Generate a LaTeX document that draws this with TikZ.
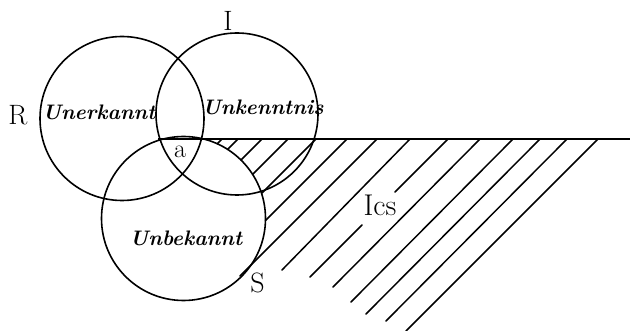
\documentclass[tikz,border=0pt]{standalone}
\usepackage{fontspec}
\begin{document}
\begin{tikzpicture}[x=1pt,y=-1pt,
  ring/.style={draw=black,line width=1.6pt},
  hatch/.style={draw=black,line width=1.5pt,line cap=round},
  caplabel/.style={inner sep=0pt,font=\fontsize{28}{30}\selectfont},
  itlabel/.style={inner sep=0pt,font=\fontsize{21}{23}\selectfont\bfseries\itshape}]
\useasboundingbox[fill=white] (0,0) rectangle (630,331);
% circle centres
\coordinate (cR) at (122,118.5);
\coordinate (cI) at (237,114);
\coordinate (cS) at (183.5,218.5);
\draw[ring] (cR) circle[radius=82];
\draw[ring] (cI) circle[radius=81];
\draw[ring] (cS) circle[radius=82];
% horizontal line
\coordinate (hl) at (158,139);
\coordinate (hr) at (630,139);
\draw[ring] (hl) -- (hr);
% hatch lines
\draw[hatch] (222,139) -- (217.3,143.7);
\draw[hatch] (238,139) -- (227.6,149.4);
\draw[hatch] (262,139) -- (241,160);
\draw[hatch] (288,139) -- (252.6,174.4);
\draw[hatch] (316,139) -- (261.8,193.2);
\draw[hatch] (347,139) -- (265.5,220.5);
\draw[hatch] (377,139) -- (240,276);
\draw[hatch] (410,139) -- (282,270);
\draw[hatch] (448,139) -- (395,192);
\draw[hatch] (362,225) -- (310,277);
\draw[hatch] (480,139) -- (333,287);
\draw[hatch] (513,139) -- (351,302);
\draw[hatch] (540,139) -- (366,314);
\draw[hatch] (567,139) -- (386,321);
\draw[hatch] (598,139) -- (406,331);
% labels
\node[caplabel] (lI) at (228,21) {I};
\node[caplabel] (lR) at (18,115) {R};
\node[caplabel] (lS) at (257.5,283) {S};
\node[caplabel,font=\fontsize{26}{28}\selectfont] (la) at (180,152) {a};
\node[caplabel,font=\fontsize{30}{32}\selectfont] (lIcs) at (380,205) {Ics};
\node[itlabel] (lUner) at (99,112) {Unerkannt};
\node[itlabel] (lUnk) at (263,107) {Unkenntnis};
\node[itlabel] (lUnb) at (186,238) {Unbekannt};
\end{tikzpicture}
\end{document}
